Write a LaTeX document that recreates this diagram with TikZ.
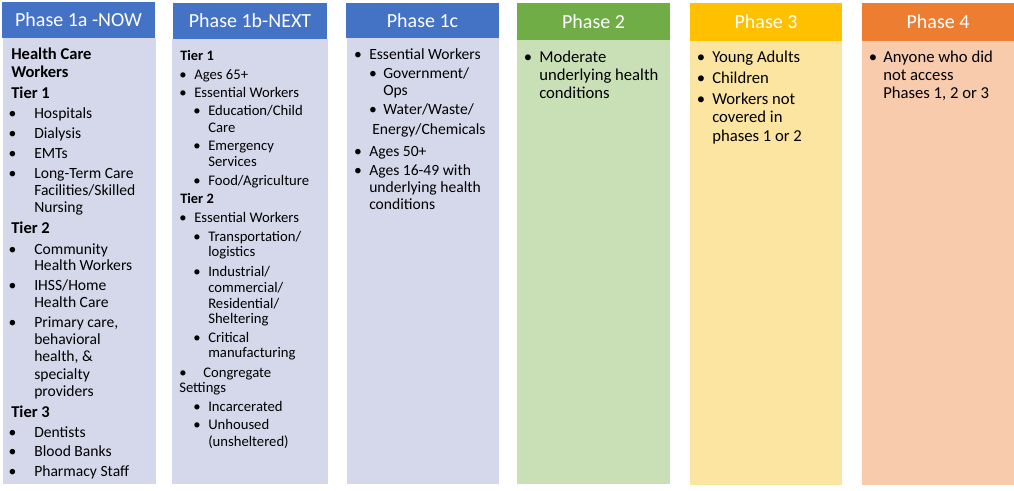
\documentclass[tikz,border=0pt]{standalone}
\usepackage{fontspec}
\setmainfont{Carlito}
\definecolor{hblue}{HTML}{4472C4}
\definecolor{bblue}{HTML}{D5D8EA}
\definecolor{hgreen}{HTML}{70AD47}
\definecolor{bgreen}{HTML}{C9E0B6}
\definecolor{hyellow}{HTML}{FFC000}
\definecolor{byellow}{HTML}{FBE5A0}
\definecolor{horange}{HTML}{ED7D31}
\definecolor{borange}{HTML}{F8CBAD}
\begin{document}
\begin{tikzpicture}[x=0.75pt,y=-0.75pt,
  hdr/.style={font=\fontsize{15pt}{17pt}\selectfont, text=white, inner sep=0, anchor=center},
  ta/.style={font=\fontsize{11.7pt}{13pt}\selectfont, inner sep=0, text height=7.5pt, text depth=0pt, anchor=west},
  tb/.style={ta, font=\fontsize{12.4pt}{14pt}\selectfont\bfseries, text height=8pt},
  tc/.style={ta, font=\fontsize{11pt}{12pt}\selectfont, text height=7.1pt},
  td/.style={ta, font=\fontsize{10.8pt}{12pt}\selectfont\bfseries, text height=7pt},
  te/.style={ta, font=\fontsize{11.7pt}{13pt}\selectfont, text height=7.5pt},
  tf/.style={ta, font=\fontsize{12.5pt}{14pt}\selectfont, text height=8pt},
  bul/.style={anchor=center}]
\useasboundingbox (0,0) rectangle (1014,491);
% boxes
\fill[hblue] (2,2) rectangle (155,38);
\fill[bblue] (3,38) rectangle (156,484);
\fill[hblue] (173,3) rectangle (327,39);
\fill[bblue] (172,39) rectangle (328,484);
\fill[hblue] (346,3) rectangle (499,38);
\fill[bblue] (347,38) rectangle (499,484);
\fill[hgreen] (517,3) rectangle (670,40);
\fill[bgreen] (517,40) rectangle (670,484);
\fill[hyellow] (690,3) rectangle (842,41);
\fill[byellow] (690,41) rectangle (842,485);
\fill[horange] (862,3) rectangle (1014,41);
\fill[borange] (862,41) rectangle (1014,485);
% headers
\node[hdr] (h1) at (78.5,20) {Phase 1a -NOW};
\node[hdr] (h2) at (250,21) {Phase 1b-NEXT};
\node[hdr] (h3) at (422.5,20.5) {Phase 1c};
\node[hdr] (h4) at (593.5,21.5) {Phase 2};
\node[hdr] (h5) at (766,22) {Phase 3};
\node[hdr] (h6) at (938,22) {Phase 4};
% column 1
\foreach \y/\t [count=\i] in {54/Health Care,72/Workers,93/Tier 1,228/Tier 2,412/Tier 3}
  \node[tb] (ab\i) at (11,\y) {\t};
\foreach \y/\t [count=\i] in {114/Hospitals,134/Dialysis,154/EMTs,174/Long-Term Care,191/{Facilities/Skilled},208/Nursing,250/Community,266/Health Workers,286/{IHSS/Home},303/Health Care,323/{Primary care,},340/behavioral,357/{health, \&},375/specialty,392/providers,433/Dentists,452/Blood Banks,471/Pharmacy Staff}
  \node[ta] (at\i) at (34,\y) {\t};
\foreach \y [count=\i] in {114,134,154,174,250,286,323,433,452,471}
  \node[ta,bul] (ad\i) at (12.5,\y) {\textbullet};
% column 2
\foreach \y/\t [count=\i] in {56/Tier 1,199/Tier 2}
  \node[td] (bb\i) at (180,\y) {\t};
\foreach \y/\t [count=\i] in {75/Ages 65+,93/Essential Workers,218/Essential Workers}
  \node[tc] (bt\i) at (194,\y) {\t};
\foreach \y [count=\i] in {75,93,218,373}
  \node[tc,bul] (bd\i) at (183,\y) {\textbullet};
\foreach \y/\t [count=\i] in {111/{Education/Child},128/Care,146/Emergency,162/Services,181/{Food/Agriculture},237/{Transportation/},252/logistics,272/{Industrial/},288/{commercial/},304/{Residential/},319/Sheltering,338/Critical,353/manufacturing,407/Incarcerated,425/Unhoused,442/(unsheltered)}
  \node[tc] (bs\i) at (208,\y) {\t};
\foreach \y [count=\i] in {111,146,181,237,272,338,407,425}
  \node[tc,bul] (be\i) at (197,\y) {\textbullet};
\node[tc] (bc1) at (203,373) {Congregate};
\node[tc] (bc2) at (179,388) {Settings};
% column 3
\foreach \y/\t [count=\i] in {55/Essential Workers,152/Ages 50+,171/Ages 16-49 with,188/underlying health,205/conditions}
  \node[te] (ct\i) at (369,\y) {\t};
\foreach \y [count=\i] in {55,152,171}
  \node[te,bul] (cd\i) at (358,\y) {\textbullet};
\foreach \y/\t [count=\i] in {74/{Government/},91/Ops,110/{Water/Waste/}}
  \node[te] (cs\i) at (383,\y) {\t};
\foreach \y [count=\i] in {74,110}
  \node[te,bul] (ce\i) at (373,\y) {\textbullet};
\node[te] (cx) at (372,130) {Energy/Chemicals};
% column 4
\foreach \y/\t [count=\i] in {57/Moderate,75/underlying health,93/conditions}
  \node[tf] (dt\i) at (539,\y) {\t};
\node[tf,bul] (dd1) at (528,57) {\textbullet};
% column 5
\foreach \y/\t [count=\i] in {57/Young Adults,78/Children,99/Workers not,117/covered in,136/phases 1 or 2}
  \node[tf] (et\i) at (712,\y) {\t};
\foreach \y [count=\i] in {57,78,99}
  \node[tf,bul] (ed\i) at (701,\y) {\textbullet};
% column 6
\foreach \y/\t [count=\i] in {57/Anyone who did,75/not access,93/{Phases 1, 2 or 3}}
  \node[tf] (ft\i) at (883,\y) {\t};
\node[tf,bul] (fd1) at (873,57) {\textbullet};
\end{tikzpicture}
\end{document}
